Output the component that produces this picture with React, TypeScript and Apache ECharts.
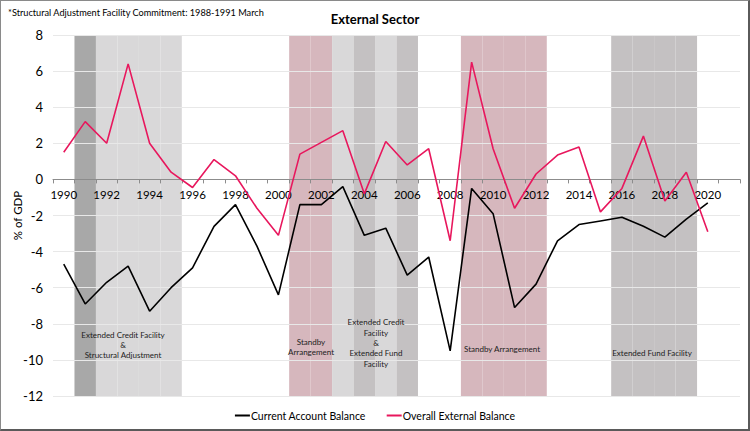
import React, { useEffect, useRef } from "react";
import * as echarts from "echarts";

const years = [
  "1990","1991","1992","1993","1994","1995","1996","1997","1998","1999",
  "2000","2001","2002","2003","2004","2005","2006","2007","2008","2009",
  "2010","2011","2012","2013","2014","2015","2016","2017","2018","2019",
  "2020","2021",
];

const currentAccount = [
  -4.7, -6.9, -5.7, -4.8, -7.3, -6.0, -4.9, -2.6, -1.4, -3.7,
  -6.4, -1.4, -1.4, -0.4, -3.1, -2.7, -5.3, -4.3, -9.5, -0.5,
  -1.9, -7.1, -5.8, -3.4, -2.5, -2.3, -2.1, -2.6, -3.2, -2.2,
  -1.3, null,
];

const overallExternal = [
  1.5, 3.2, 2.0, 6.4, 2.0, 0.4, -0.45, 1.1, 0.2, -1.6,
  -3.1, 1.4, 2.05, 2.7, -0.8, 2.1, 0.8, 1.7, -3.4, 6.5,
  1.7, -1.6, 0.3, 1.35, 1.8, -1.8, -0.5, 2.4, -1.2, 0.4,
  -2.9, null,
];

// programme shading per year: "" none, "D" dark grey, "L" light grey, "M" mid grey, "P" pink
const programmeBands = [
  "", "D", "L", "L", "L", "L", "", "", "", "",
  "", "P", "P", "L", "M", "L", "M", "", "", "P",
  "P", "P", "P", "", "", "", "M", "M", "M", "M",
  "", "",
];

const seriesNames = ["Current Account Balance", "Overall External Balance"];
const titleText = "External Sector";
const noteText = "*Structural Adjustment Facility Commitment: 1988-1991 March";
const yTicks = { min: -12, max: 8, interval: 2 };

const bandColors: Record<string, string> = {
  D: "#a8a8a8",
  L: "#d9d8d9",
  M: "#c4c1c2",
  P: "#d6b7bd",
};

const annotations = [
  { text: "Extended Credit Facility\n&\nStructural Adjustment", x: 123, y: 345 },
  { text: "Standby\nArrangement", x: 311, y: 347 },
  { text: "Extended Credit\nFacility\n&\nExtended Fund\nFacility", x: 376, y: 343 },
  { text: "Standby Arrangement", x: 502, y: 349 },
  { text: "Extended Fund Facility", x: 652, y: 353 },
];

const FONT = "Lato, 'Noto Sans', sans-serif";
const W = 750;
const H = 431;
const GRID = { left: 53, right: 10, top: 35, bottom: 35 };

export default function App() {
  const ref = useRef<HTMLDivElement>(null);

  useEffect(() => {
    document.body.style.margin = "0";
    if (!ref.current) return;
    const chart = echarts.init(ref.current, null, { renderer: "svg" });

    const bandData = programmeBands.map((k) =>
      k ? { value: 1, itemStyle: { color: bandColors[k] } } : "-"
    );

    // move the category axis up to the zero line of the value axis
    const plotH = H - GRID.top - GRID.bottom;
    const zeroOffset = -plotH * ((0 - yTicks.min) / (yTicks.max - yTicks.min));

    chart.setOption({
      animation: false,
      backgroundColor: "#ffffff",
      textStyle: { fontFamily: FONT },
      title: {
        text: titleText,
        left: "center",
        top: 7,
        textStyle: { fontSize: 13, fontWeight: "bold", color: "#000", fontFamily: FONT },
      },
      legend: {
        data: seriesNames,
        bottom: 5,
        left: "center",
        icon: "rect",
        itemWidth: 15,
        itemHeight: 2,
        itemGap: 21,
        textStyle: { fontSize: 10.5, color: "#000", fontFamily: FONT, padding: [0, 0, 0, -4] },
      },
      grid: { ...GRID, containLabel: false, outerBoundsMode: "none" },
      xAxis: {
        type: "category",
        data: years,
        boundaryGap: true,
        position: "bottom",
        offset: zeroOffset,
        axisLine: { onZero: false, lineStyle: { color: "#8c8c8c", width: 1 } },
        axisTick: { show: true, interval: 0, length: 4, lineStyle: { color: "#8c8c8c" } },
        axisLabel: { interval: 1, fontSize: 11.5, color: "#000", margin: 9, fontFamily: FONT },
        splitLine: { show: false },
        z: 4,
      },
      yAxis: [
        {
          type: "value",
          min: yTicks.min,
          max: yTicks.max,
          interval: yTicks.interval,
          z: 3,
          name: "% of GDP",
          nameLocation: "middle",
          nameGap: 30,
          nameMoveOverlap: false,
          nameTextStyle: { fontSize: 11.5, color: "#000", fontFamily: FONT },
          axisLine: { show: false, onZero: false },
          axisTick: { show: false },
          axisLabel: { fontSize: 13, color: "#000", margin: 10, fontFamily: FONT },
          splitLine: { show: true, lineStyle: { color: "#e8e8e8", width: 1 } },
        },
        { type: "value", min: 0, max: 1, show: false, axisLine: { onZero: false } },
      ],
      series: [
        {
          type: "bar",
          yAxisIndex: 1,
          data: bandData,
          barWidth: "100%",
          barCategoryGap: 0,
          silent: true,
          z: 1,
          legendHoverLink: false,
        },
        {
          name: seriesNames[0],
          type: "line",
          data: currentAccount,
          symbol: "none",
          z: 5,
          lineStyle: { color: "#000000", width: 1.6 },
          itemStyle: { color: "#000000" },
        },
        {
          name: seriesNames[1],
          type: "line",
          data: overallExternal,
          symbol: "none",
          z: 5,
          lineStyle: { color: "#e8175d", width: 1.6 },
          itemStyle: { color: "#e8175d" },
        },
      ],
      graphic: [
        {
          type: "text",
          left: 8,
          top: 8,
          style: { text: noteText, fontSize: 9.2, fill: "#000", fontFamily: FONT },
        },
        ...annotations.map((a) => ({
          type: "text",
          x: a.x,
          y: a.y,
          z: 10,
          style: {
            text: a.text,
            fontSize: 8,
            lineHeight: 10.3,
            fill: "#222",
            align: "center",
            verticalAlign: "middle",
            fontFamily: FONT,
          },
        })),
      ],
    });

    return () => chart.dispose();
  }, []);

  return (
    <div style={{ position: "fixed", left: 0, top: 0, width: W, height: H }}>
      <div ref={ref} style={{ position: "absolute", left: 0, top: 0, width: W, height: H }} />
      <div
        style={{
          position: "absolute",
          left: 0,
          top: 0,
          width: W,
          height: H,
          boxSizing: "border-box",
          borderTop: "1px solid #8a8a8a",
          borderLeft: "1px solid #8a8a8a",
          borderRight: "2px solid #5a5a5a",
          borderBottom: "2px solid #5a5a5a",
          pointerEvents: "none",
        }}
      />
    </div>
  );
}
